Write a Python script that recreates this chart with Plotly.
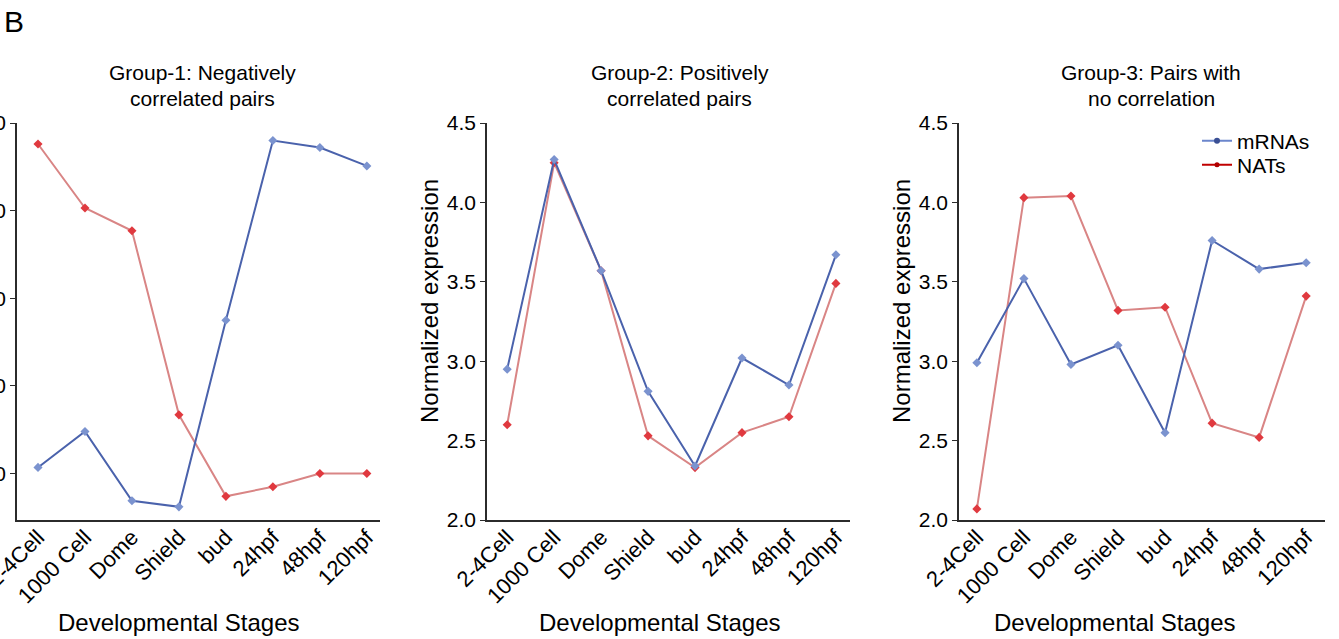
import plotly.graph_objects as go

stages = ["2-4Cell", "1000 Cell", "Dome", "Shield", "bud", "24hpf", "48hpf", "120hpf"]

g1_mrna = [1.07, 1.48, 0.69, 0.62, 2.75, 4.80, 4.72, 4.51]
g1_nats = [4.76, 4.03, 3.77, 1.67, 0.74, 0.85, 1.00, 1.00]

g2_mrna = [2.95, 4.27, 3.57, 2.81, 2.34, 3.02, 2.85, 3.67]
g2_nats = [2.60, 4.25, 3.57, 2.53, 2.33, 2.55, 2.65, 3.49]

g3_mrna = [2.99, 3.52, 2.98, 3.10, 2.55, 3.76, 3.58, 3.62]
g3_nats = [2.07, 4.03, 4.04, 3.32, 3.34, 2.61, 2.52, 3.41]

titles = [("Group-1: Negatively", "correlated pairs"),
          ("Group-2: Positively", "correlated pairs"),
          ("Group-3: Pairs with", "no correlation")]

W, H = 1339, 639
FONT = "Liberation Sans, Arial, sans-serif"
BLUE_LINE = "#4a62ac"
BLUE_MARK = "#7b93cf"
RED_LINE = "#d98585"
RED_MARK = "#e0393f"
AX = "#2b2b2b"

def px(x):
    return x / W

def py(y):
    return (H - y) / H

fig = go.Figure()

panels = [
    dict(mrna=g1_mrna, nats=g1_nats, xd=(17, 380), xr=(-0.447, 7.28), yr=(0.47, 5.0),
         ticks=[1, 2, 3, 4, 5]),
    dict(mrna=g2_mrna, nats=g2_nats, xd=(487, 850), xr=(-0.43, 7.30), yr=(2.0, 4.5),
         ticks=[2.0, 2.5, 3.0, 3.5, 4.0, 4.5]),
    dict(mrna=g3_mrna, nats=g3_nats, xd=(959, 1325), xr=(-0.38, 7.40), yr=(2.0, 4.5),
         ticks=[2.0, 2.5, 3.0, 3.5, 4.0, 4.5]),
]

layout_axes = {}
for i, p in enumerate(panels):
    n = "" if i == 0 else str(i + 1)
    xa, ya = "x" + n, "y" + n
    xidx = list(range(len(stages)))
    fig.add_trace(go.Scatter(x=xidx, y=p["nats"], xaxis=xa, yaxis=ya, mode="lines+markers",
                             line=dict(color=RED_LINE, width=2),
                             marker=dict(symbol="diamond", size=7, color=RED_MARK),
                             showlegend=False))
    fig.add_trace(go.Scatter(x=xidx, y=p["mrna"], xaxis=xa, yaxis=ya, mode="lines+markers",
                             line=dict(color=BLUE_LINE, width=2),
                             marker=dict(symbol="diamond", size=7, color=BLUE_MARK),
                             showlegend=False))
    layout_axes["xaxis" + n] = dict(
        domain=[px(p["xd"][0]), px(p["xd"][1])], range=list(p["xr"]), anchor=ya,
        tickmode="array", tickvals=xidx, ticktext=stages, tickangle=-45,
        ticks="", showline=True, linecolor=AX, linewidth=1.5, showgrid=False,
        zeroline=False, automargin=False, ticklabeloverflow="allow", ticklabelstandoff=-6,
        tickfont=dict(size=22, color="black", family=FONT))
    layout_axes["yaxis" + n] = dict(
        domain=[py(520), py(123)], range=list(p["yr"]), anchor=xa,
        tickmode="array", tickvals=p["ticks"], tickformat=".1f",
        ticks="outside", ticklen=5, tickcolor=AX, showline=True, linecolor=AX, linewidth=1.5,
        showgrid=False, zeroline=False, automargin=False, ticklabeloverflow="allow",
        tickfont=dict(size=21, color="black", family=FONT))

# legend entries
fig.add_trace(go.Scatter(x=[None], y=[None], xaxis="x3", yaxis="y3", mode="lines+markers",
                         name="mRNAs", legend="legend", line=dict(color="#6b86cc", width=2),
                         marker=dict(symbol="circle", size=6, color="#3a4f94")))
fig.add_trace(go.Scatter(x=[None], y=[None], xaxis="x3", yaxis="y3", mode="lines+markers",
                         name="NATs", legend="legend2", line=dict(color="#c00000", width=2),
                         marker=dict(symbol="circle", size=5, color="#b00000")))

annotations = []
title_centers = [202, 680, 1151]
for (l1, l2), cx in zip(titles, title_centers):
    annotations.append(dict(text=l1, x=px(cx), y=py(73), xref="paper", yref="paper",
                            showarrow=False, xanchor="center", yanchor="middle",
                            font=dict(size=21, color="black", family=FONT)))
    annotations.append(dict(text=l2, x=px(cx), y=py(98), xref="paper", yref="paper",
                            showarrow=False, xanchor="center", yanchor="middle",
                            font=dict(size=21, color="black", family=FONT)))

for cx in [178, 659, 1114]:
    annotations.append(dict(text="Developmental Stages", x=px(cx), y=py(622), xref="paper",
                            yref="paper", showarrow=False, xanchor="center", yanchor="middle",
                            font=dict(size=24, color="black", family=FONT)))

for cx in [429, 901]:
    annotations.append(dict(text="Normalized expression", x=px(cx), y=py(301), xref="paper",
                            yref="paper", showarrow=False, xanchor="center", yanchor="middle",
                            textangle=-90, font=dict(size=24, color="black", family=FONT)))

annotations.append(dict(text="B", x=px(14), y=py(21), xref="paper", yref="paper",
                        showarrow=False, xanchor="center", yanchor="middle",
                        font=dict(size=30, color="black", family=FONT)))

legend_common = dict(xanchor="left", yanchor="middle", bgcolor="rgba(0,0,0,0)",
                     font=dict(size=21, color="black", family=FONT), itemwidth=30)

fig.update_layout(
    width=W, height=H, margin=dict(l=0, r=0, t=0, b=0),
    paper_bgcolor="white", plot_bgcolor="white", template="none",
    font=dict(family=FONT, color="black"),
    annotations=annotations,
    legend=dict(x=px(1197), y=py(141), **legend_common),
    legend2=dict(x=px(1197), y=py(165), **legend_common),
    **layout_axes,
)

fig.write_html("out.html")
